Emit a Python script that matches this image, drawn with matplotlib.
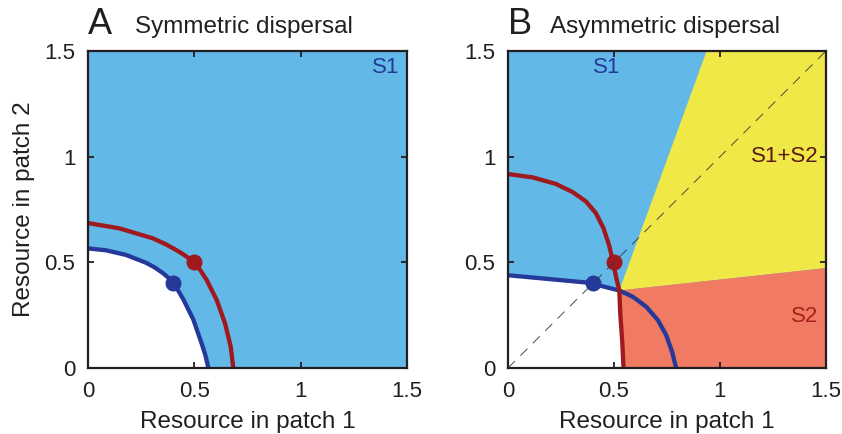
import matplotlib
matplotlib.use("Agg")
import matplotlib.pyplot as plt

plt.rcParams['font.family'] = ['Liberation Sans', 'DejaVu Sans']

# panel A curves (x, y)
blue_a_x = [0.000, 0.085, 0.179, 0.273, 0.312, 0.351, 0.382, 0.400, 0.425, 0.448, 0.495,
            0.534, 0.552, 0.566]
blue_a_y = [0.566, 0.557, 0.535, 0.498, 0.477, 0.450, 0.424, 0.400, 0.365, 0.325, 0.230,
            0.117, 0.060, 0.000]
red_a_x = [0.000, 0.147, 0.304, 0.367, 0.429, 0.461, 0.500, 0.530, 0.558, 0.605, 0.644,
           0.671, 0.683]
red_a_y = [0.686, 0.661, 0.614, 0.585, 0.550, 0.529, 0.500, 0.460, 0.416, 0.322, 0.212,
           0.101, 0.000]

# panel B curves
blue_b_x = [0.000, 0.226, 0.398, 0.433, 0.525, 0.589, 0.652, 0.707, 0.746, 0.774, 0.793]
blue_b_y = [0.439, 0.418, 0.402, 0.390, 0.367, 0.337, 0.290, 0.227, 0.156, 0.077, 0.000]
red_b_x = [0.000, 0.116, 0.226, 0.304, 0.367, 0.414, 0.450, 0.476, 0.497, 0.510, 0.525,
           0.530, 0.539, 0.545]
red_b_y = [0.918, 0.902, 0.871, 0.833, 0.789, 0.734, 0.663, 0.584, 0.497, 0.430, 0.367,
           0.251, 0.125, 0.000]
cross_b = (0.525, 0.367)
s1_edge_top = (0.937, 1.5)
s2_edge_right = (1.5, 0.473)

dots_blue = (0.4, 0.4)
dots_red = (0.5, 0.5)

ticks = [0, 0.5, 1, 1.5]
tick_labels = ['0', '0.5', '1', '1.5']

c_sky = '#62B8E7'
c_yel = '#F0E846'
c_sal = '#F07B62'
c_red = '#A0191E'
c_blue = '#24399A'
c_ink = '#231F20'

fig = plt.figure(figsize=(8.42, 4.34), dpi=100)
axA = fig.add_axes([0.1045, 0.152, 0.379, 0.7305])
axB = fig.add_axes([0.6033, 0.152, 0.3777, 0.7305])

for ax in (axA, axB):
    ax.set_xlim(0, 1.5)
    ax.set_ylim(0, 1.5)
    ax.set_xticks(ticks)
    ax.set_yticks(ticks)
    ax.set_xticklabels(tick_labels)
    ax.set_yticklabels(tick_labels)
    ax.tick_params(direction='in', length=4, width=1.3, labelsize=16,
                   top=True, right=True, pad=9, colors=c_ink)
    for sp in ax.spines.values():
        sp.set_linewidth(1.6)
        sp.set_color(c_ink)
    ax.set_xlabel('Resource in patch 1', fontsize=17.5, labelpad=7, color=c_ink)

# ---- panel A
axA.fill([0, 1.5, 1.5, 0], [0, 0, 1.5, 1.5], color=c_sky, lw=0, zorder=0)
axA.fill(blue_a_x + [0], blue_a_y + [0], color='white', lw=0, zorder=0.5)
axA.plot(blue_a_x, blue_a_y, color=c_blue, lw=3.1, solid_capstyle='butt',
         solid_joinstyle='round', zorder=2)
axA.plot(red_a_x, red_a_y, color=c_red, lw=3.1, solid_capstyle='butt',
         solid_joinstyle='round', zorder=2)
axA.plot(*dots_blue, 'o', color=c_blue, ms=10.5, zorder=3)
axA.plot(*dots_red, 'o', color=c_red, ms=10.5, zorder=3)
axA.text(1.465, 1.42, 'S1', color=c_blue, fontsize=16, ha='right', va='center')
axA.set_ylabel('Resource in patch 2', fontsize=17.5, labelpad=7, color=c_ink)
fig.text(0.1040, 0.921, 'A', fontsize=26, ha='left', va='baseline', color=c_ink)
fig.text(0.160, 0.923, 'Symmetric dispersal', fontsize=17.5, ha='left', va='baseline', color=c_ink)

# ---- panel B
axB.fill([0, 1.5, 1.5, 0], [0, 0, 1.5, 1.5], color=c_sky, lw=0, zorder=0)
axB.fill([cross_b[0], s1_edge_top[0], 1.5, s2_edge_right[0]],
         [cross_b[1], s1_edge_top[1], 1.5, s2_edge_right[1]], color=c_yel, lw=0, zorder=0.4)
i = red_b_x.index(cross_b[0])
axB.fill(red_b_x[i:] + [1.5, s2_edge_right[0]], red_b_y[i:] + [0, s2_edge_right[1]],
         color=c_sal, lw=0, zorder=0.4)
j = blue_b_x.index(cross_b[0])
axB.fill(blue_b_x[:j + 1] + red_b_x[i + 1:] + [0], blue_b_y[:j + 1] + red_b_y[i + 1:] + [0],
         color='white', lw=0, zorder=0.5)
axB.plot(blue_b_x, blue_b_y, color=c_blue, lw=3.1, solid_capstyle='butt',
         solid_joinstyle='round', zorder=2)
axB.plot(red_b_x, red_b_y, color=c_red, lw=3.1, solid_capstyle='butt',
         solid_joinstyle='round', zorder=2)
axB.plot(*dots_blue, 'o', color=c_blue, ms=10.5, zorder=3)
axB.plot(*dots_red, 'o', color=c_red, ms=10.5, zorder=3)
axB.plot([0, 1.5], [0, 1.5], color='#333333', lw=0.6, dashes=(12, 9), zorder=4)
axB.text(0.464, 1.42, 'S1', color=c_blue, fontsize=16, ha='center', va='center')
axB.text(1.465, 1.0, 'S1+S2', color='#5A1A12', fontsize=16, ha='right', va='center')
axB.text(1.465, 0.243, 'S2', color='#A8201E', fontsize=16, ha='right', va='center')
fig.text(0.6028, 0.921, 'B', fontsize=26, ha='left', va='baseline', color=c_ink)
fig.text(0.653, 0.923, 'Asymmetric dispersal', fontsize=17.5, ha='left', va='baseline', color=c_ink)

fig.savefig('out.png', dpi=100)
